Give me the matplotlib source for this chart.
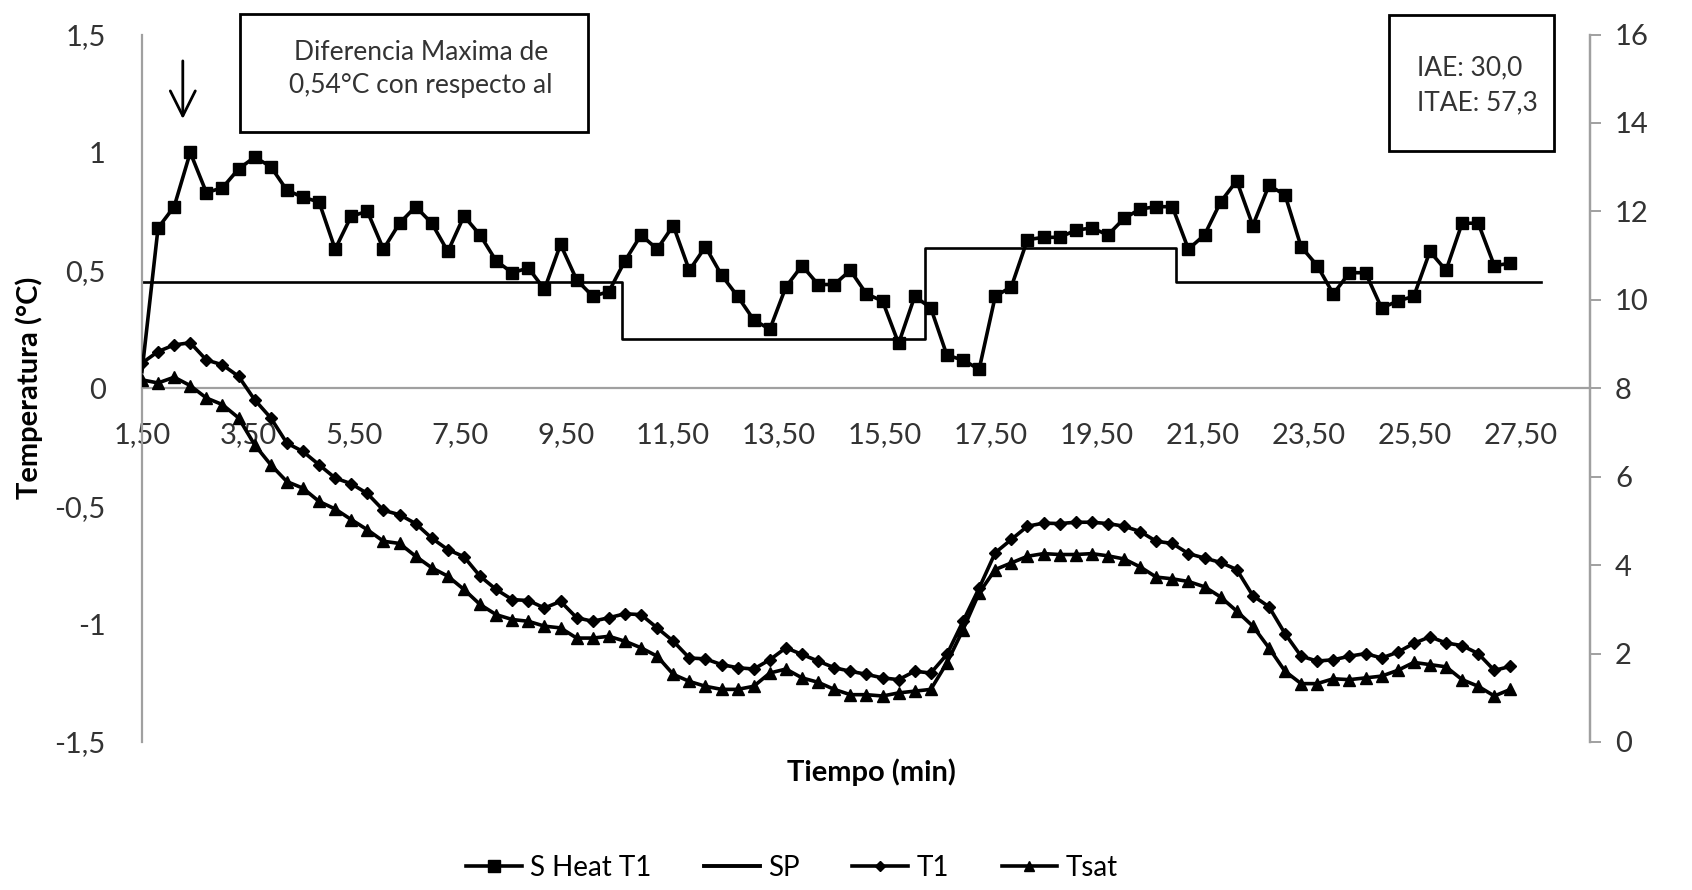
import numpy as np
import matplotlib
matplotlib.use('Agg')
import matplotlib.pyplot as plt
from matplotlib.patches import Rectangle
from matplotlib.lines import Line2D

plt.rcParams['font.family'] = ['Lato', 'DejaVu Sans']

# tiempo (min), una muestra cada ~0.3 min
n = 86
t = np.linspace(1.5, 27.3, n)

sheat_t1 = [0.07, 0.68, 0.77, 1.00, 0.83, 0.85, 0.93, 0.98, 0.94, 0.84,
            0.81, 0.79, 0.59, 0.73, 0.75, 0.59, 0.70, 0.77, 0.70, 0.58,
            0.73, 0.65, 0.54, 0.49, 0.51, 0.42, 0.61, 0.46, 0.39, 0.41,
            0.54, 0.65, 0.59, 0.69, 0.50, 0.60, 0.48, 0.39, 0.29, 0.25,
            0.43, 0.52, 0.44, 0.44, 0.50, 0.40, 0.37, 0.19, 0.39, 0.34,
            0.14, 0.12, 0.08, 0.39, 0.43, 0.63, 0.64, 0.64, 0.67, 0.68,
            0.65, 0.72, 0.76, 0.77, 0.77, 0.59, 0.65, 0.79, 0.88, 0.69,
            0.86, 0.82, 0.60, 0.52, 0.40, 0.49, 0.49, 0.34, 0.37, 0.39,
            0.58, 0.50, 0.70, 0.70, 0.52, 0.53]

t1 = [8.57, 8.83, 8.98, 9.03, 8.64, 8.53, 8.27, 7.74, 7.33, 6.76,
      6.57, 6.27, 5.97, 5.84, 5.62, 5.24, 5.14, 4.94, 4.61, 4.35,
      4.19, 3.75, 3.45, 3.22, 3.20, 3.03, 3.18, 2.81, 2.73, 2.81,
      2.90, 2.88, 2.58, 2.28, 1.90, 1.88, 1.75, 1.68, 1.65, 1.86,
      2.13, 1.98, 1.83, 1.68, 1.60, 1.53, 1.45, 1.41, 1.60, 1.56,
      1.98, 2.73, 3.48, 4.28, 4.58, 4.88, 4.95, 4.94, 4.97, 4.97,
      4.94, 4.88, 4.76, 4.54, 4.49, 4.26, 4.16, 4.06, 3.90, 3.31,
      3.06, 2.45, 1.94, 1.83, 1.86, 1.94, 2.00, 1.90, 2.03, 2.23,
      2.38, 2.24, 2.18, 2.00, 1.62, 1.71]

tsat = [8.19, 8.12, 8.25, 8.06, 7.78, 7.63, 7.33, 6.72, 6.27, 5.89,
        5.74, 5.44, 5.27, 5.03, 4.80, 4.54, 4.49, 4.20, 3.94, 3.75,
        3.45, 3.11, 2.88, 2.77, 2.73, 2.62, 2.58, 2.35, 2.35, 2.39,
        2.28, 2.13, 1.94, 1.53, 1.37, 1.26, 1.19, 1.19, 1.26, 1.56,
        1.65, 1.45, 1.35, 1.19, 1.07, 1.07, 1.04, 1.11, 1.15, 1.19,
        1.79, 2.54, 3.37, 3.90, 4.05, 4.20, 4.26, 4.24, 4.24, 4.26,
        4.21, 4.14, 3.96, 3.73, 3.69, 3.63, 3.51, 3.28, 2.96, 2.62,
        2.13, 1.60, 1.32, 1.32, 1.43, 1.41, 1.45, 1.49, 1.62, 1.80,
        1.75, 1.70, 1.41, 1.26, 1.04, 1.19]

# set point: escalones (tiempo de cambio, nivel)
sp_t = [1.5, 10.55, 16.27, 20.99, 27.88]
sp_level = [0.45, 0.21, 0.595, 0.45]

xticks = [1.5, 3.5, 5.5, 7.5, 9.5, 11.5, 13.5, 15.5, 17.5, 19.5, 21.5, 23.5, 25.5, 27.5]
xlabels = ['1,50', '3,50', '5,50', '7,50', '9,50', '11,50', '13,50', '15,50',
           '17,50', '19,50', '21,50', '23,50', '25,50', '27,50']
yticks = [-1.5, -1, -0.5, 0, 0.5, 1, 1.5]
ylabels = ['-1,5', '-1', '-0,5', '0', '0,5', '1', '1,5']

grey = '#a0a0a0'
txt = '#333333'

fig = plt.figure(figsize=(16.92, 8.9), dpi=100)
ax = fig.add_axes([0.0839, 0.1663, 0.8558, 0.7949])
ax2 = ax.twinx()

ax.plot(t, sheat_t1, color='black', lw=2.6, marker='s', ms=9,
        markevery=slice(1, None), zorder=3)
ax.plot(sp_t, sp_level + [sp_level[-1]], color='black', lw=1.9,
        drawstyle='steps-post', zorder=2)
ax2.plot(t, t1, color='black', lw=2.6, marker='D', ms=6.5)
ax2.plot(t, tsat, color='black', lw=2.6, marker='^', ms=8.5)

ax.set_xlim(1.5, 28.8)
ax.set_ylim(-1.5, 1.5)
ax2.set_ylim(0, 16)

ax.set_xticks(xticks)
ax.set_xticklabels(xlabels)
ax.set_yticks(yticks)
ax.set_yticklabels(ylabels)
ax2.set_yticks(range(0, 17, 2))

ax.spines['bottom'].set_position(('data', 0))
for a in (ax, ax2):
    a.spines['top'].set_visible(False)
    for s in ('left', 'right', 'bottom'):
        a.spines[s].set_color(grey)
        a.spines[s].set_linewidth(1.6)
ax2.spines['left'].set_visible(False)
ax2.spines['bottom'].set_visible(False)

ax.tick_params(axis='x', length=0, pad=24, labelsize=21, labelcolor=txt)
ax.tick_params(axis='y', length=0, pad=26, labelsize=21, labelcolor=txt)
ax2.tick_params(axis='y', length=8, width=1.4, color=grey, pad=10,
                labelsize=21, labelcolor=txt)

ax.set_ylabel('Temperatura (°C)', fontsize=21, fontweight='bold', labelpad=8)
fig.text(0.515, 0.132, 'Tiempo (min)', fontsize=21, fontweight='bold',
         ha='center', va='center')

# flecha al maximo
ax.annotate('', xy=(2.27, 1.13), xytext=(2.27, 1.4),
            arrowprops=dict(arrowstyle='->', lw=2, mutation_scale=45, color='black'))

# cuadros de texto
fig.patches.append(Rectangle((0.1418, 0.8517), 0.2057, 0.1326, transform=fig.transFigure,
                             fill=False, lw=2, ec='black'))
fig.text(0.2487, 0.922, 'Diferencia Maxima de\n0,54°C con respecto al', fontsize=19,
         ha='center', va='center', color=txt, linespacing=1.4)
fig.patches.append(Rectangle((0.8209, 0.8303), 0.0975, 0.1528, transform=fig.transFigure,
                             fill=False, lw=2, ec='black'))
fig.text(0.8375, 0.9045, 'IAE: 30,0\nITAE: 57,3', fontsize=19,
         ha='left', va='center', color=txt, linespacing=1.5)

handles = [
    Line2D([], [], color='black', lw=2.6, marker='s', ms=8),
    Line2D([], [], color='black', lw=2.8),
    Line2D([], [], color='black', lw=2.6, marker='D', ms=5),
    Line2D([], [], color='black', lw=2.6, marker='^', ms=7),
]
fig.legend(handles, ['S Heat T1', 'SP', 'T1', 'Tsat'], loc='center',
           bbox_to_anchor=(0.468, 0.025), ncol=4, frameon=False, fontsize=20,
           handlelength=2.0, columnspacing=1.9, handletextpad=0.3)

fig.savefig('out.png', dpi=100)
